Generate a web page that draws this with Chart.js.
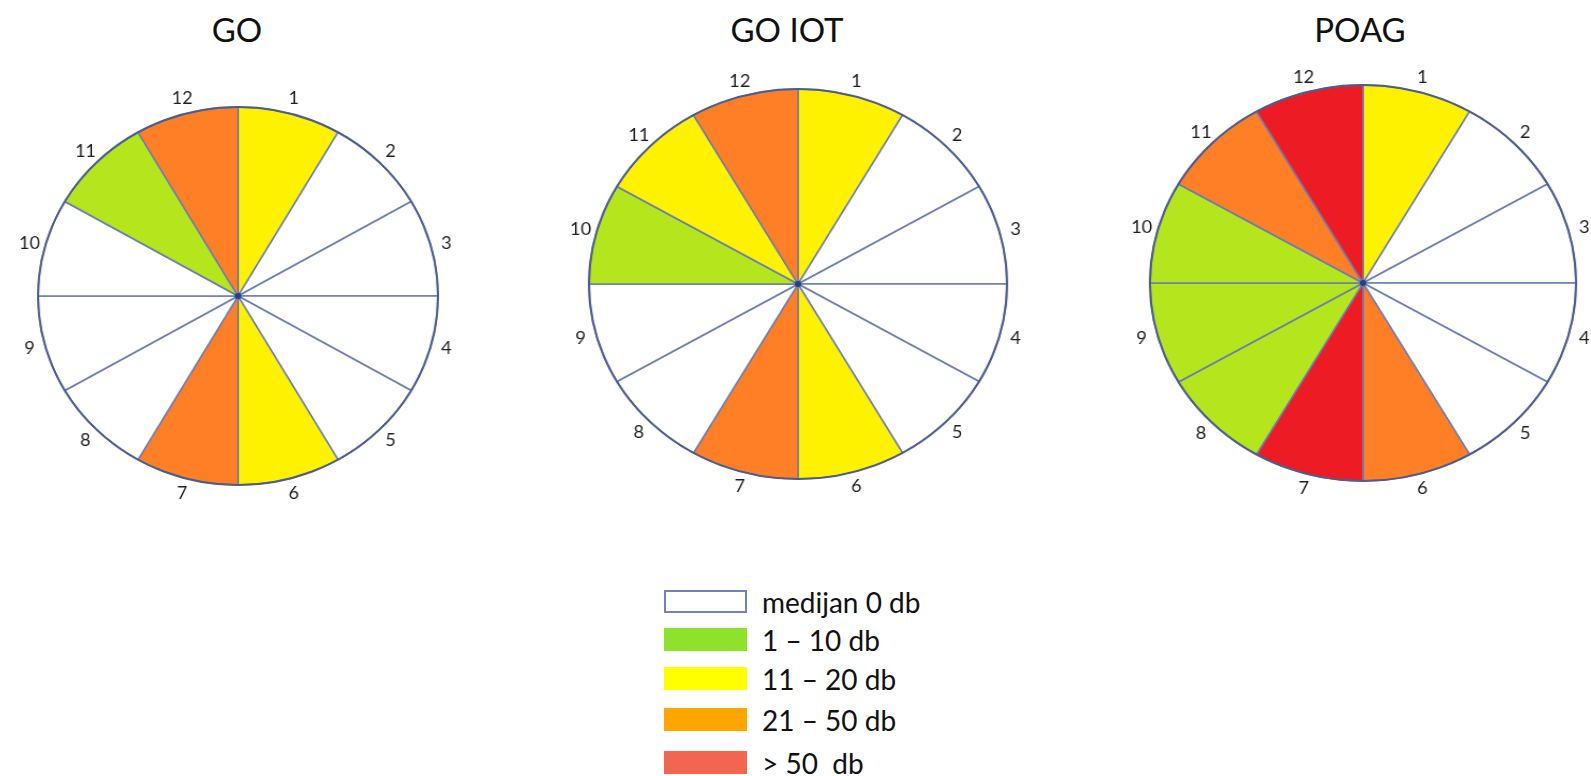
<!DOCTYPE html>
<html><head><meta charset="utf-8">
<script src="https://cdn.jsdelivr.net/npm/chart.js@4.4.1/dist/chart.umd.min.js"></script>
<style>
html,body{margin:0;padding:0;background:#fff;}
body{width:1591px;height:776px;overflow:hidden;position:relative;font-family:Lato,'Open Sans',sans-serif;}
.title{position:absolute;font-size:33px;color:#111;transform:translate(-50%,-50%);white-space:nowrap;line-height:1;}
.wrap{position:absolute;transform-origin:50% 50%;}
.lbox{position:absolute;left:664px;width:83px;height:23px;box-sizing:border-box;}
.ltext{position:absolute;left:762px;font-size:28px;color:#111;transform:translateY(-50%);white-space:pre;line-height:1;}
</style></head><body>
<div id="root"></div>
<script>
// ---- data ----
const sectorLabels = ['1','2','3','4','5','6','7','8','9','10','11','12'];
const sectorSize = [1,1,1,1,1,1,1,1,1,1,1,1];
const goLevels    = [2,0,0,0,0,2,3,0,0,0,1,3];
const goIotLevels = [2,0,0,0,0,2,3,0,0,1,2,3];
const poagLevels  = [2,0,0,0,0,3,4,1,1,1,3,4];
const chartTitles = ['GO','GO IOT','POAG'];
const legendLabels = ['medijan 0 db','1 \u2013 10 db','11 \u2013 20 db','21 \u2013 50 db','> 50  db'];

// ---- styles ----
const pieColors = ['#ffffff','#b5e61d','#fff200','#ff7f27','#ed1c24'];
const legendColors = ['#ffffff','#8fe22b','#ffff00','#ffa500','#f26651'];
const layouts = [
  {cx:238, cy:296, r:189, sx:1.058, tx:237},
  {cx:798, cy:284, r:195, sx:1.072, tx:787},
  {cx:1363, cy:283, r:198, sx:1.076, tx:1360}
];
const legendTops = [590, 628, 667, 708, 751];

const outerLabels = {
  id:'outerLabels',
  afterDraw(chart){
    const ctx = chart.ctx;
    const meta = chart.getDatasetMeta(0);
    const arcs = meta.data;
    if(!arcs.length) return;
    const a0 = arcs[0];
    const R = a0.outerRadius;
    ctx.save();
    ctx.beginPath();
    ctx.arc(a0.x, a0.y, R, 0, Math.PI*2);
    ctx.lineWidth = 2;
    ctx.strokeStyle = '#4b5c8f';
    ctx.stroke();
    ctx.beginPath();
    ctx.arc(a0.x, a0.y, 3, 0, Math.PI*2);
    ctx.fillStyle = '#24427f';
    ctx.fill();
    ctx.font = '17px Lato, "Open Sans", sans-serif';
    ctx.fillStyle = '#1e1e1e';
    ctx.textAlign = 'center';
    ctx.textBaseline = 'middle';
    arcs.forEach((arc,i)=>{
      const mid = (arc.startAngle + arc.endAngle)/2;
      const d = R + 15;
      ctx.fillText(chart.data.labels[i], arc.x + Math.cos(mid)*d, arc.y + Math.sin(mid)*d);
    });
    ctx.restore();
  }
};

const root = document.getElementById('root');
const levelSets = [goLevels, goIotLevels, poagLevels];

layouts.forEach((L, k)=>{
  const t = document.createElement('div');
  t.className = 'title';
  t.style.left = L.tx + 'px';
  t.style.top = '29px';
  t.textContent = chartTitles[k];
  root.appendChild(t);

  const S = 2*(L.r + 40);
  const w = document.createElement('div');
  w.className = 'wrap';
  w.style.left = (L.cx - S/2) + 'px';
  w.style.top = (L.cy - S/2) + 'px';
  w.style.width = S + 'px';
  w.style.height = S + 'px';
  w.style.transform = 'scaleX(' + L.sx + ')';
  const c = document.createElement('canvas');
  c.width = S; c.height = S;
  c.style.width = S + 'px'; c.style.height = S + 'px';
  w.appendChild(c);
  root.appendChild(w);

  new Chart(c, {
    type:'pie',
    data:{
      labels: sectorLabels,
      datasets:[{
        data: sectorSize,
        backgroundColor: levelSets[k].map(v=>pieColors[v]),
        borderColor:'#6b7db3',
        borderWidth:1.5,
        borderAlign:'center'
      }]
    },
    options:{
      responsive:false,
      animation:false,
      events:[],
      radius: L.r,
      layout:{padding:0},
      plugins:{legend:{display:false}, tooltip:{enabled:false}, title:{display:false}}
    },
    plugins:[outerLabels]
  });
});

legendLabels.forEach((lab,i)=>{
  const b = document.createElement('div');
  b.className = 'lbox';
  b.style.top = legendTops[i] + 'px';
  b.style.background = legendColors[i];
  if(i===0){ b.style.border = '2px solid #7182c2'; }
  root.appendChild(b);
  const t = document.createElement('div');
  t.className = 'ltext';
  t.style.top = (legendTops[i] + 11.5) + 'px';
  t.textContent = lab;
  root.appendChild(t);
});
</script>
</body></html>
